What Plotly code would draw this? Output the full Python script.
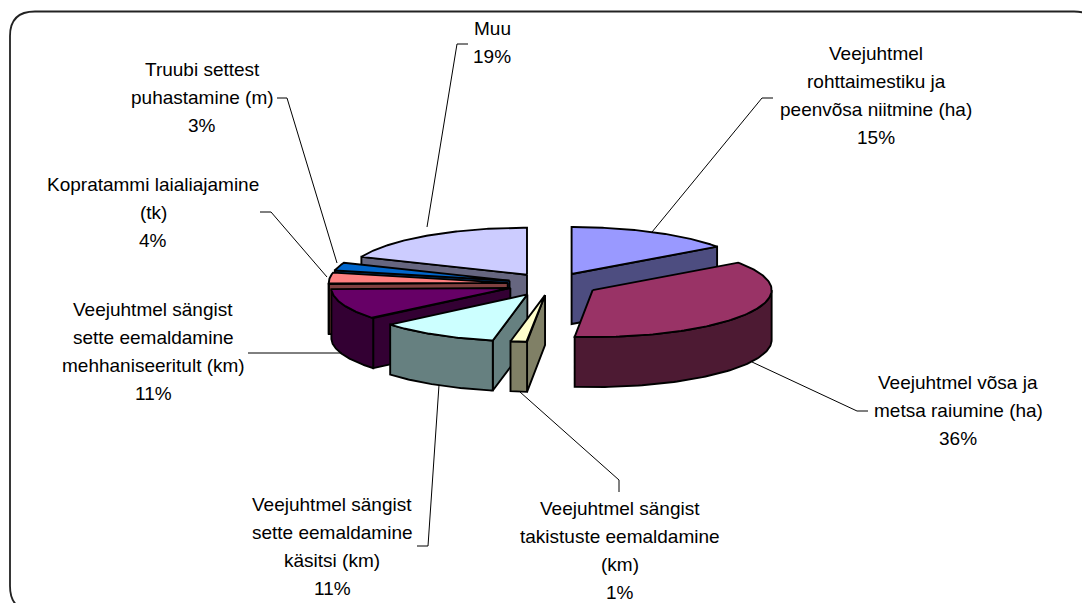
import numpy as np
import plotly.graph_objects as go

# Data
categories = [
    "Veejuhtmel rohttaimestiku ja peenvõsa niitmine (ha)",
    "Veejuhtmel võsa ja metsa raiumine (ha)",
    "Veejuhtmel sängist takistuste eemaldamine (km)",
    "Veejuhtmel sängist sette eemaldamine käsitsi (km)",
    "Veejuhtmel sängist sette eemaldamine mehhaniseeritult (km)",
    "Kopratammi laialiajamine (tk)",
    "Truubi settest puhastamine (m)",
    "Muu",
]
values = [15.1, 36.49, 1.49, 10.8, 10.7, 3.9, 2.7, 18.8]
explode = [1.0, 1.08, 1.0, 1.08, 1.0, 1.0, 1.0, 1.0]
top_colors = ["#9999FF", "#993366", "#FFFFCC", "#CCFFFF", "#660066", "#FF8080", "#0066CC", "#CCCCFF"]
side_colors = ["#4D4D80", "#4D1A33", "#808066", "#668080", "#330033", "#804040", "#003366", "#666680"]
label_lines = [
    ["Veejuhtmel", "rohttaimestiku ja", "peenvõsa niitmine (ha)"],
    ["Veejuhtmel võsa ja", "metsa raiumine (ha)"],
    ["Veejuhtmel sängist", "takistuste eemaldamine", "(km)"],
    ["Veejuhtmel sängist", "sette eemaldamine", "käsitsi (km)"],
    ["Veejuhtmel sängist", "sette eemaldamine", "mehhaniseeritult (km)"],
    ["Kopratammi laialiajamine", "(tk)"],
    ["Truubi settest", "puhastamine (m)"],
    ["Muu"],
]

# Layout of the pseudo-3D pie and its labels
CX, CY, RX, RY, DEPTH = 551.5, 284.0, 179.0, 47.0, 50.0
EX, EY = 44.0, 11.2
paint_order = [7, 0, 6, 5, 1, 4, 3, 2]
label_anchor = [(876, 53), (958, 382), (620, 508), (332, 504), (153, 309), (153, 184), (202, 69), (492, 28)]
LINE_STEP = 28.0
leaders = [
    ([652, 762, 773], [232, 98, 98]),
    ([752, 857, 868], [362, 411, 411]),
    ([520, 619, 619], [392, 480, 492]),
    ([439, 428, 417], [385, 546, 546]),
    ([342, 248], [353, 353]),
    ([327, 271, 260], [277, 212, 212]),
    ([337, 287, 277], [263, 98, 98]),
    ([427, 457, 468], [227, 44, 44]),
]

fractions = np.array(values) / sum(values)
edges = np.concatenate([[0.0], np.cumsum(fractions)]) * 2 * np.pi

fig = go.Figure()
LINE = dict(color="#000000", width=1.9)


def poly(xs, ys, color):
    fig.add_trace(go.Scatter(
        x=list(xs), y=list(ys), mode="lines", fill="toself", fillcolor=color,
        line=LINE, hoverinfo="skip", showlegend=False))


for i in paint_order:
    a, b = edges[i], edges[i + 1]
    mid = (a + b) / 2
    ax, ay = CX + explode[i] * EX * np.sin(mid), CY - explode[i] * EY * np.cos(mid)

    def rim(t):
        return ax + RX * np.sin(t), ay - RY * np.cos(t)

    # radial wall facing the viewer
    for ang, facing in ((a, np.sin(a) < -1e-6), (b, np.sin(b) > 1e-6)):
        if facing:
            px, py = rim(ang)
            poly([ax, px, px, ax, ax], [ay, py, py + DEPTH, ay + DEPTH, ay], side_colors[i])
    # outer wall (front half only)
    lo, hi = max(a, np.pi / 2), min(b, 3 * np.pi / 2)
    if hi > lo:
        t = np.linspace(lo, hi, 80)
        x, y = rim(t)
        poly(np.r_[x, x[::-1], x[0]], np.r_[y, y[::-1] + DEPTH, y[0]], side_colors[i])
    # top face
    t = np.linspace(a, b, 120)
    x, y = rim(t)
    poly(np.r_[ax, x, ax], np.r_[ay, y, ay], top_colors[i])

for lx, ly in leaders:
    fig.add_trace(go.Scatter(x=lx, y=ly, mode="lines", line=dict(color="#000000", width=1),
                             hoverinfo="skip", showlegend=False))

annotations = []
for lines, (x0, y0), v in zip(label_lines, label_anchor, values):
    for k, text in enumerate(lines + [f"{v:.0f}%"]):
        annotations.append(dict(x=x0, y=y0 + k * LINE_STEP, text=text, showarrow=False,
                                xanchor="center", yanchor="middle", xref="x", yref="y",
                                font=dict(family="Liberation Sans, Arial, sans-serif", size=19, color="#000000")))

frame = "M 10 36 Q 10 11.5 35 11.5 L 1074 11.5 Q 1099 11.5 1099 36 L 1099 586 Q 1099 611 1074 611 L 35 611 Q 10 611 10 586 Z"

fig.update_layout(
    width=1082, height=603, margin=dict(l=0, r=0, t=0, b=0),
    paper_bgcolor="#FFFFFF", plot_bgcolor="#FFFFFF", showlegend=False,
    xaxis=dict(range=[0, 1082], visible=False, fixedrange=True),
    yaxis=dict(range=[603, 0], visible=False, fixedrange=True),
    annotations=annotations,
    shapes=[dict(type="path", path=frame, xref="x", yref="y", layer="below",
                 line=dict(color="#222222", width=1.8))],
)
fig.write_html("out.html", config={"displayModeBar": False},
               post_script="document.body.style.margin='0';document.body.style.overflow='hidden';")
